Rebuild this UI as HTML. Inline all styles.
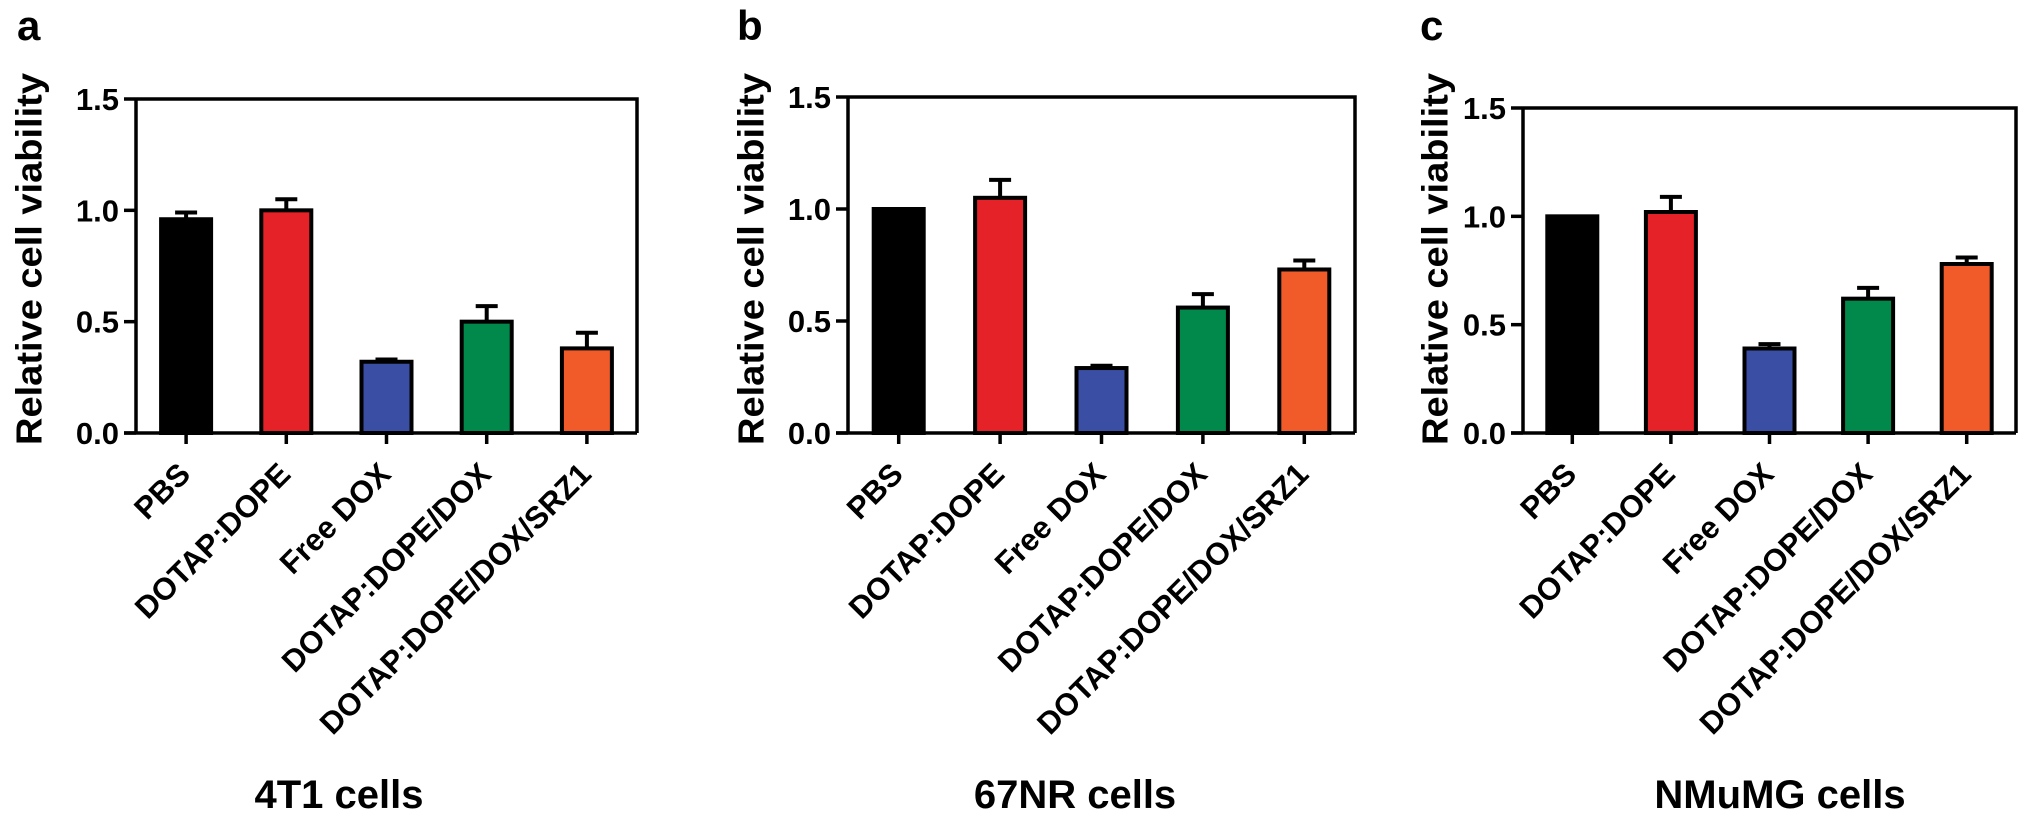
<!DOCTYPE html>
<html><head><meta charset="utf-8"><style>
html,body{margin:0;padding:0;background:#fff;}
svg{display:block;font-family:"Liberation Sans",Arial,sans-serif;font-weight:bold;}
</style></head><body>
<svg id="fig" width="2031" height="822" viewBox="0 0 2031 822"></svg>
<script>
const categories = ["PBS","DOTAP:DOPE","Free DOX","DOTAP:DOPE/DOX","DOTAP:DOPE/DOX/SRZ1"];
const colors = ["#000000","#e42228","#3a4ea3","#00894a","#f15a29"];
const yTicks = [0, 0.5, 1.0, 1.5];
const yTickLabels = ["0.0","0.5","1.0","1.5"];
const valuesA = [0.96, 1.00, 0.32, 0.50, 0.38];
const errorsA = [0.03, 0.05, 0.01, 0.07, 0.07];
const valuesB = [1.00, 1.05, 0.29, 0.56, 0.73];
const errorsB = [0.00, 0.08, 0.01, 0.06, 0.04];
const valuesC = [1.00, 1.02, 0.39, 0.62, 0.78];
const errorsC = [0.00, 0.07, 0.02, 0.05, 0.03];
const panelLetters = ["a","b","c"];
const captions = ["4T1 cells","67NR cells","NMuMG cells"];

const NS = "http://www.w3.org/2000/svg";
const svg = document.getElementById("fig");
function mk(tag, attrs, parent){
  const e = document.createElementNS(NS, tag);
  for (const k in attrs) e.setAttribute(k, attrs[k]);
  (parent||svg).appendChild(e);
  return e;
}
const panels = [
  {left:136, right:637, top:99, zero:433, title:29, letterX:17, capX:339, vals:valuesA, errs:errorsA},
  {left:848, right:1355, top:97, zero:433, title:751, letterX:737, capX:1075, vals:valuesB, errs:errorsB},
  {left:1523, right:2016, top:108, zero:433, title:1435, letterX:1420, capX:1780, vals:valuesC, errs:errorsC}
];
panels.forEach((p, pi) => {
  const g = mk("g", {});
  
  
  const y = v => p.zero - (v / 1.5) * (p.zero - p.top);
  const step = (p.right - p.left) / categories.length;
  const xc = i => p.left + (i + 0.5) * step;
  const bw = 50;
  p.vals.forEach((v, i) => {
    const err = p.errs[i];
    if (err > 0) {
      const l = mk("path", {d:`M${xc(i)},${y(v)} V${y(v+err)} M${xc(i)-11},${y(v+err)} H${xc(i)+11}`, stroke:"#000","stroke-width":4, fill:"none"}, g);
      
      
    }
    const r = mk("rect", {x:xc(i)-bw/2, y:y(v), width:bw, height:p.zero-y(v), fill:colors[i], stroke:"#000","stroke-width":4}, g);
    
    
  });
  const fr = mk("path", {d:`M${p.left},${p.top} H${p.right} V${p.zero} M${p.left-12},${p.zero} H${p.right} M${p.left},${p.top} V${p.zero}`, stroke:"#000","stroke-width":3.5, fill:"none"}, g);
  
  
  yTicks.forEach((t, k) => {
    mk("line", {x1:p.left-12, x2:p.left, y1:y(t), y2:y(t), stroke:"#000","stroke-width":3.5}, g);
    const tl = mk("text", {x:p.left-17, y:y(t)+11, "text-anchor":"end","font-size":31}, g);
    tl.textContent = yTickLabels[k];
    
    
  });
  categories.forEach((c, i) => {
    mk("line", {x1:xc(i), x2:xc(i), y1:p.zero, y2:p.zero+11, stroke:"#000","stroke-width":3.5}, g);
    const ax = xc(i) + 6, ay = 476;
    const tl = mk("text", {x:ax, y:ay, "text-anchor":"end","font-size":31, transform:`rotate(-45 ${ax} ${ay})`}, g);
    tl.textContent = c;
    
    
  });
  const ty = 259;
  const yt = mk("text", {x:p.title, y:ty, "text-anchor":"middle","dominant-baseline":"central","font-size":36, textLength:372, lengthAdjust:"spacingAndGlyphs", transform:`rotate(-90 ${p.title} ${ty})`}, g);
  yt.textContent = "Relative cell viability";
  
  
  const lt = mk("text", {x:p.letterX, y:40, "font-size":42}, g);
  lt.textContent = panelLetters[pi];
  
  
  const cp = mk("text", {x:p.capX, y:808, "text-anchor":"middle","font-size":40}, g);
  cp.textContent = captions[pi];
  
  
});
</script>
</body></html>
